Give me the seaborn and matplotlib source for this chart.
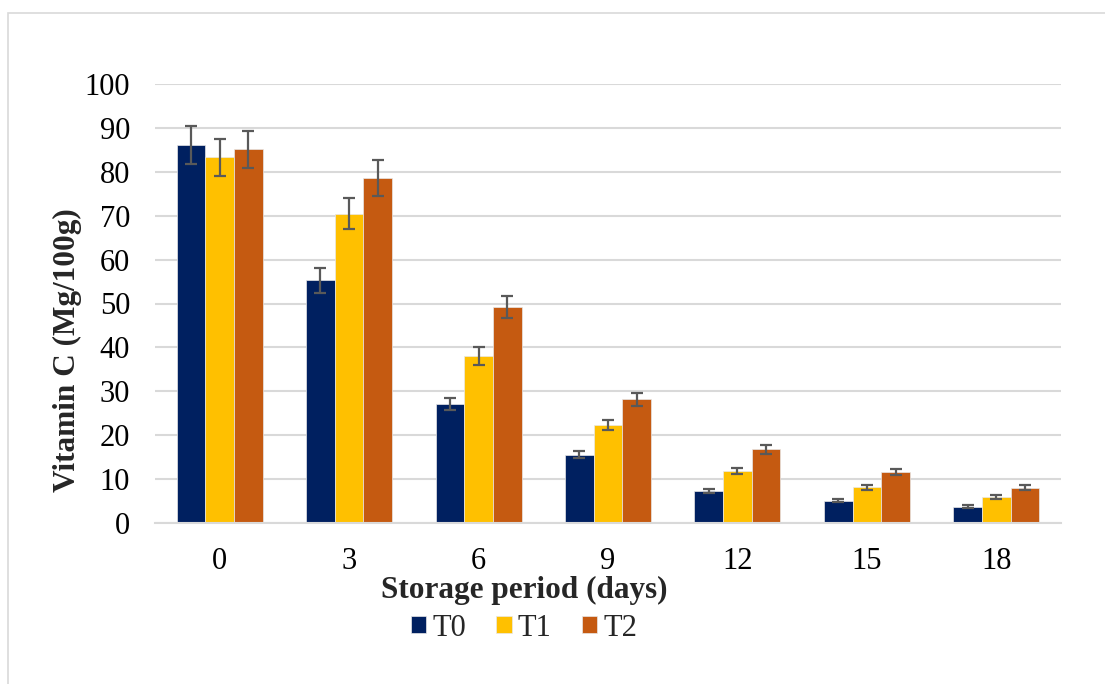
import pandas as pd
import matplotlib.pyplot as plt
import seaborn as sns
from matplotlib.patches import Rectangle

# Vitamin C during storage, three treatments
days = ['0', '3', '6', '9', '12', '15', '18']
treatments = ['T0', 'T1', 'T2']
t0_vals = [86.1, 55.3, 27.1, 15.5, 7.3, 5.1, 3.7]
t1_vals = [83.3, 70.5, 38.0, 22.3, 11.8, 8.1, 5.9]
t2_vals = [85.1, 78.6, 49.2, 28.2, 16.8, 11.6, 8.0]
t0_err = [4.4, 2.8, 1.4, 0.8, 0.5, 0.4, 0.3]
t1_err = [4.2, 3.5, 2.0, 1.2, 0.65, 0.55, 0.5]
t2_err = [4.3, 4.0, 2.5, 1.5, 1.0, 0.7, 0.55]
colors = ['#002060', '#FFC000', '#C55A11']

rows = []
for t, vals, errs in zip(treatments, [t0_vals, t1_vals, t2_vals], [t0_err, t1_err, t2_err]):
    for d, v, e in zip(days, vals, errs):
        rows.append({'day': d, 'treatment': t, 'value': v, 'err': e})
df = pd.DataFrame(rows)

sns.set_style('white')
plt.rcParams['font.family'] = ['Liberation Serif', 'DejaVu Serif']

fig = plt.figure(figsize=(11.05, 6.84), dpi=100)
ax = fig.add_axes([155 / 1105, 1 - 523 / 684, (1061 - 155) / 1105, (523 - 84) / 684])

sns.barplot(data=df, x='day', y='value', hue='treatment', order=days,
            hue_order=treatments, palette=colors, saturation=1, width=0.665,
            errorbar=None, edgecolor='#E8E8E8', linewidth=0.5, ax=ax, zorder=2)

# error bars placed on the drawn bars
for t, cont in zip(treatments, ax.containers):
    sub = df[df['treatment'] == t].set_index('day').loc[days]
    xs = [p.get_x() + p.get_width() / 2 for p in cont.patches]
    ax.errorbar(xs, sub['value'], yerr=sub['err'], fmt='none', ecolor='#595959',
                elinewidth=1.6, capsize=4.5, capthick=1.6, zorder=3)

ax.set_xlim(-0.5, len(days) - 0.5)
ax.set_ylim(0, 100)
ax.set_yticks(range(0, 101, 10))
ax.grid(axis='y', color='#D9D9D9', linewidth=1.5, zorder=0)
ax.set_axisbelow(True)
for s in ['top', 'right', 'left']:
    ax.spines[s].set_visible(False)
ax.spines['bottom'].set_color('#D9D9D9')
ax.spines['bottom'].set_linewidth(1.5)
ax.tick_params(axis='both', length=0, labelsize=22, colors='black')
ax.tick_params(axis='y', pad=18)
ax.tick_params(axis='x', pad=17.5)

ax.set_ylabel('Vitamin C (Mg/100g)', fontsize=22.5, fontweight='bold')
ax.yaxis.set_label_coords(-0.081, 0.394)
ax.set_xlabel('')
fig.text(524 / 1105, 1 - 590 / 684, 'Storage period (days)', fontsize=22.5,
         fontweight='bold', ha='center', va='center')

handles, labels = ax.get_legend_handles_labels()
ax.legend(handles, labels, loc='center', bbox_to_anchor=(524 / 1105, 1 - 628 / 684),
          bbox_transform=fig.transFigure, ncol=3, frameon=False, fontsize=22,
          handlelength=0.5, handleheight=0.5, handletextpad=0.2, columnspacing=1.0)

fig.add_artist(Rectangle((8 / 1105, -0.05), 1.2, 1 - 13 / 684 + 0.05,
                         transform=fig.transFigure, fill=False,
                         edgecolor='#D9D9D9', linewidth=1.2))

fig.savefig('out.png', dpi=100)
